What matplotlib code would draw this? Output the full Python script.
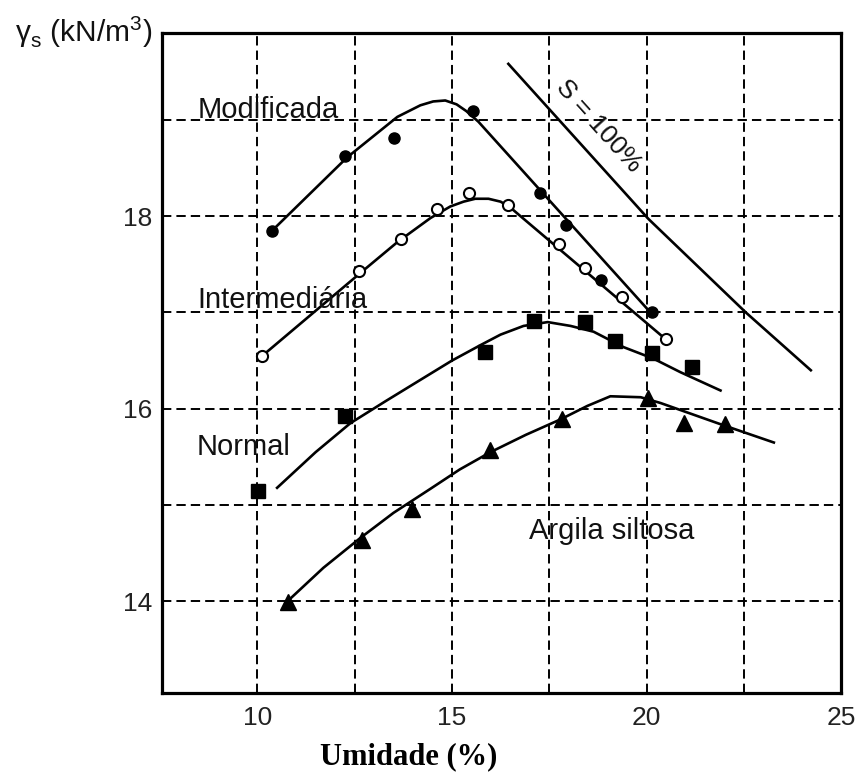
import numpy as np
import matplotlib.pyplot as plt
from matplotlib.ticker import MultipleLocator

plt.rcParams['font.family'] = ['Liberation Sans', 'DejaVu Sans']

# measured points (umidade %, peso especifico kN/m3)
mod_w = [10.39, 12.26, 13.52, 15.55, 17.27, 17.92, 18.84, 20.15]
mod_g = [17.85, 18.62, 18.81, 19.09, 18.24, 17.91, 17.34, 17.00]

int_w = [10.13, 12.62, 13.68, 14.63, 15.45, 16.45, 17.74, 18.43, 19.36, 20.51]
int_g = [16.55, 17.43, 17.76, 18.07, 18.24, 18.12, 17.71, 17.46, 17.16, 16.72]

nor_w = [10.03, 12.26, 15.84, 17.10, 18.41, 19.18, 20.13, 21.16]
nor_g = [15.15, 15.93, 16.59, 16.91, 16.90, 16.70, 16.58, 16.43]

arg_w = [10.80, 12.70, 13.98, 15.99, 17.84, 20.03, 20.95, 22.01]
arg_g = [13.99, 14.64, 14.96, 15.57, 15.89, 16.11, 15.85, 15.84]

# hand-drawn fitted curves
mod_cw = [10.41, 12.31, 13.60, 14.19, 14.52, 14.83, 15.12, 15.37, 15.68, 20.10]
mod_cg = [17.86, 18.61, 19.03, 19.15, 19.19, 19.20, 19.16, 19.09, 18.98, 17.00]

int_cw = [10.13, 12.65, 13.60, 14.45, 14.96, 15.30, 15.60, 15.94, 16.25, 16.50, 16.76, 20.41]
int_cg = [16.55, 17.41, 17.73, 17.98, 18.10, 18.15, 18.18, 18.18, 18.15, 18.09, 18.00, 16.75]

nor_cw = [10.51, 11.50, 12.39, 13.30, 14.19, 15.00, 15.73, 16.25, 16.84, 17.46,
          18.05, 18.64, 19.41, 20.18, 20.87, 21.90]
nor_cg = [15.18, 15.55, 15.85, 16.08, 16.30, 16.50, 16.66, 16.77, 16.86, 16.90,
          16.86, 16.80, 16.64, 16.52, 16.38, 16.19]

arg_cw = [10.85, 11.70, 12.65, 13.50, 14.45, 15.20, 15.99, 16.90, 17.79, 18.48,
          19.07, 19.85, 20.36, 21.90, 23.27]
arg_cg = [14.03, 14.35, 14.66, 14.92, 15.17, 15.37, 15.55, 15.73, 15.89, 16.03,
          16.13, 16.12, 16.06, 15.84, 15.65]

# curva de saturacao S = 100%
sat_w = [16.45, 20.05, 22.55, 24.22]
sat_g = [19.58, 17.97, 17.00, 16.40]

fig = plt.figure(figsize=(8.61, 7.72), dpi=100)
ax = fig.add_axes([0.188, 0.1023, 0.789, 0.8549])

ax.set_xlim(7.55, 25.0)
ax.set_ylim(13.05, 19.9)

ax.xaxis.set_major_locator(MultipleLocator(5))
ax.xaxis.set_minor_locator(MultipleLocator(2.5))
ax.yaxis.set_major_locator(MultipleLocator(2))
ax.yaxis.set_minor_locator(MultipleLocator(1))
ax.set_yticks([14, 16, 18])
ax.grid(which='both', color='black', linestyle=(0, (4.8, 2.6)), linewidth=1.4)
ax.set_axisbelow(True)
ax.tick_params(which='both', length=0)
ax.tick_params(axis='x', labelsize=19, pad=9, labelcolor='#222222')
ax.tick_params(axis='y', labelsize=19, pad=7, labelcolor='#222222')
for s in ax.spines.values():
    s.set_linewidth(2.3)
    s.set_color('black')

lw = 1.9
ax.plot(mod_cw, mod_cg, color='black', lw=lw)
ax.plot(int_cw, int_cg, color='black', lw=lw)
ax.plot(nor_cw, nor_cg, color='black', lw=lw)
ax.plot(arg_cw, arg_cg, color='black', lw=lw)
ax.plot(sat_w, sat_g, color='black', lw=lw)

ax.plot(mod_w, mod_g, 'o', color='black', markersize=8, zorder=4)
ax.plot(int_w, int_g, 'o', markerfacecolor='white', markeredgecolor='black',
        markeredgewidth=1.5, markersize=8, zorder=4)
ax.plot(nor_w, nor_g, 's', color='black', markersize=10, zorder=4)
ax.plot(arg_w, arg_g, '^', color='black', markersize=11, zorder=4)

fs = 21
ax.text(8.48, 19.1, 'Modificada', fontsize=fs, va='center', ha='left', color='#111111')
ax.text(8.46, 17.13, 'Intermediária', fontsize=fs, va='center', ha='left', color='#111111')
ax.text(8.43, 15.6, 'Normal', fontsize=fs, va='center', ha='left', color='#111111')
ax.text(16.97, 14.73, 'Argila siltosa', fontsize=fs, va='center', ha='left', color='#111111')
ax.text(18.78, 18.93, 'S = 100%', fontsize=19, rotation=-48, rotation_mode='anchor',
        ha='center', va='center', color='#111111')

fig.text(15 / 861, 1 - 42 / 772, r'γ$_\mathregular{s}$ (kN/m$^\mathregular{3}$)',
         fontsize=21.5, ha='left', va='baseline', color='#111111')
fig.text(409 / 861, 1 - 757 / 772, 'Umidade (%)', fontsize=22, fontweight='bold',
         family='Liberation Serif', ha='center', va='center')

fig.savefig('out.png', dpi=100, facecolor='white')
